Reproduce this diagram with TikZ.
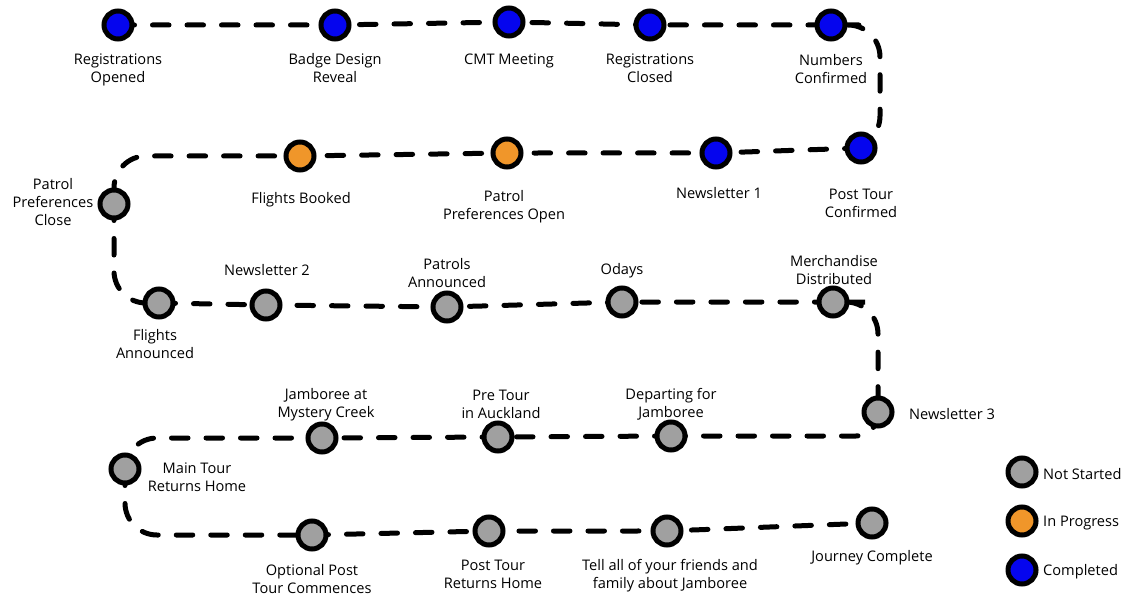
\documentclass[tikz,border=0pt]{standalone}
\usepackage{fontspec}
\setmainfont{Open Sans}
\usetikzlibrary{backgrounds}
\definecolor{cblue}{RGB}{5,5,238}
\definecolor{corange}{RGB}{240,150,42}
\definecolor{cgrey}{RGB}{160,160,160}
\tikzset{
  ms/.style={circle,draw=black,line width=5pt,minimum size=28pt,inner sep=0pt},
  done/.style={ms,fill=cblue},
  prog/.style={ms,fill=corange},
  todo/.style={ms,fill=cgrey},
  lbl/.style={align=center,font=\fontsize{14.6}{18}\selectfont,inner sep=0pt,yshift=-1.5pt},
  lgd/.style={anchor=west,font=\fontsize{14.6}{18}\selectfont,inner sep=0pt,yshift=-1pt},
  trail/.style={line width=5pt,line cap=round,dash pattern=on 16.5pt off 18pt,rounded corners=32pt}
}
\begin{document}
\begin{tikzpicture}[x=1pt,y=-1pt]
\useasboundingbox (0,0) rectangle (1129,596);
% milestones
\node[done] (n1) at (118,25) {};
\node[done] (n2) at (335,25) {};
\node[done] (n3) at (509,22) {};
\node[done] (n4) at (650,25) {};
\node[done] (n5) at (831,25) {};
\node[done] (n6) at (861,148) {};
\node[done] (n7) at (716,153) {};
\node[prog] (n8) at (507,153) {};
\node[prog] (n9) at (300,156) {};
\node[todo] (n10) at (114,204) {};
\node[todo] (n11) at (159,303) {};
\node[todo] (n12) at (266,305) {};
\node[todo] (n13) at (447,307) {};
\node[todo] (n14) at (622,302) {};
\node[todo] (n15) at (833,302) {};
\node[todo] (n16) at (878,412) {};
\node[todo] (n17) at (671,436) {};
\node[todo] (n18) at (498,437) {};
\node[todo] (n19) at (322,438) {};
\node[todo] (n20) at (125,469) {};
\node[todo] (n21) at (312,535) {};
\node[todo] (n22) at (489,531) {};
\node[todo] (n23) at (667,531) {};
\node[todo] (n24) at (872,523) {};
\coordinate (c1) at (880,148);
% labels
\node[lbl] (l1) at (118,68) {Registrations\\Opened};
\node[lbl] (l2) at (335,67) {Badge Design\\Reveal};
\node[lbl] (l3) at (509,59) {CMT Meeting};
\node[lbl] (l4) at (650,67) {Registrations\\Closed};
\node[lbl] (l5) at (831,68) {Numbers\\Confirmed};
\node[lbl] (l6) at (861,202) {Post Tour\\Confirmed};
\node[lbl] (l7) at (719,192) {Newsletter 1};
\node[lbl] (l8) at (504,205) {Patrol\\Preferences Open};
\node[lbl] (l9) at (301,198) {Flights Booked};
\node[lbl] (l10) at (53,201) {Patrol\\Preferences\\Close};
\node[lbl] (l11) at (155,343) {Flights\\Announced};
\node[lbl] (l12) at (267,269) {Newsletter 2};
\node[lbl] (l13) at (447,272) {Patrols\\Announced};
\node[lbl] (l14) at (622,269) {Odays};
\node[lbl] (l15) at (834,269) {Merchandise\\Distributed};
\node[lbl] (l16) at (952,413) {Newsletter 3};
\node[lbl] (l17) at (671,403) {Departing for\\Jamboree};
\node[lbl] (l18) at (501,403) {Pre Tour\\in Auckland};
\node[lbl] (l19) at (326,403) {Jamboree at\\Mystery Creek};
\node[lbl] (l20) at (197,476) {Main Tour\\Returns Home};
\node[lbl] (l21) at (312,578) {Optional Post\\Tour Commences};
\node[lbl] (l22) at (493,573) {Post Tour\\Returns Home};
\node[lbl] (l23) at (670,574) {Tell all of your friends and\\family about Jamboree};
\node[lbl] (l24) at (872,556) {Journey Complete};
% legend
\node[todo] (k1) at (1022,472) {};
\node[prog] (k2) at (1022,521) {};
\node[done] (k3) at (1022,570) {};
\node[lgd] (t1) at (1043,473) {Not Started};
\node[lgd] (t2) at (1043,522) {In Progress};
\node[lgd] (t3) at (1043,571) {Completed};
% trail
\begin{scope}[on background layer]
\draw[trail] (n1.center) -- (n2.center) -- (n3.center) -- (n4.center) -- (n5.center) -| (c1) -- (n6.center);
\draw[trail] (n6.center) -- (n7.center) -- (n8.center) -- (n9.center) -| (n10.center);
\draw[trail] (n10.center) |- (n11.center);
\draw[trail] (n11.center) -- (n12.center) -- (n13.center) -- (n14.center) -- (n15.center) -| (n16.center);
\draw[trail,rounded corners=22pt] (n16.center) |- (n17.center);
\draw[trail] (n17.center) -- (n18.center) -- (n19.center) -| (n20.center);
\draw[trail] (n20.center) |- (n21.center);
\draw[trail] (n21.center) -- (n22.center) -- (n23.center) -- (n24.center);
\end{scope}
\end{tikzpicture}
\end{document}
